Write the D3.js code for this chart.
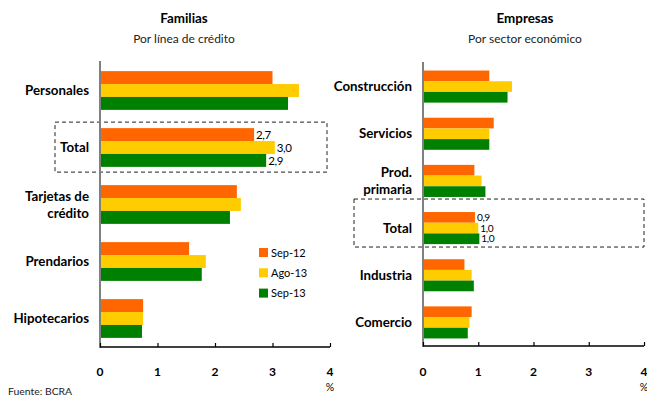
<!DOCTYPE html>
<html>
<head>
<meta charset="utf-8">
<script src="https://cdn.jsdelivr.net/npm/d3@7"></script>
<style>
  body { margin: 0; background: #fff; }
  svg { font-family: Lato, "Open Sans", sans-serif; }
</style>
</head>
<body>
<svg class="chart" width="647" height="396"></svg>
<script>
var series = ["Sep-12", "Ago-13", "Sep-13"];
var colors = ["#ff6600", "#ffcc00", "#008000"];
var ticks = [0, 1, 2, 3, 4];

var famCats = ["Personales", "Total", "Tarjetas de\ncrédito", "Prendarios", "Hipotecarios"];
var famSep12 = [3.0, 2.68, 2.38, 1.55, 0.75];
var famAgo13 = [3.46, 3.04, 2.45, 1.84, 0.75];
var famSep13 = [3.27, 2.89, 2.26, 1.77, 0.73];

var empCats = ["Construcción", "Servicios", "Prod.\nprimaria", "Total", "Industria", "Comercio"];
var empSep12 = [1.2, 1.28, 0.93, 0.94, 0.75, 0.88];
var empAgo13 = [1.61, 1.2, 1.06, 1.0, 0.88, 0.84];
var empSep13 = [1.53, 1.2, 1.13, 1.02, 0.92, 0.81];

var svg = d3.select(".chart");

function fmt(v) { return d3.format(".1f")(v).replace(".", ","); }

function panel(opts) {
    var x = d3.scaleLinear().domain([0, 4]).range([opts.x0, opts.x1]);
    var y = d3.scaleBand().domain(opts.cats).range([opts.y0, opts.y1])
        .paddingInner(0.32).paddingOuter(0.16);
    var sub = d3.scaleBand().domain(series).range([0, y.bandwidth()]);
    var vals = [opts.a, opts.b, opts.c];
    var g = svg.append("g");

    g.append("text").attr("x", opts.tx).attr("y", 23).attr("text-anchor", "middle")
        .attr("font-weight", "bold").attr("font-size", 13.4).text(opts.title);
    g.append("text").attr("x", opts.tx).attr("y", 43).attr("text-anchor", "middle")
        .attr("font-size", 12).attr("fill", "#222").text(opts.sub);

    // recuadro del total
    var tb = y("Total");
    g.append("rect")
        .attr("x", opts.boxX0).attr("y", tb + opts.boxTop)
        .attr("width", opts.boxX1 - opts.boxX0).attr("height", opts.boxH)
        .attr("fill", "none").attr("stroke", "#222").attr("stroke-width", 1)
        .attr("stroke-dasharray", "4,3");

    var fs = Math.min(11.5, sub.bandwidth() - 0.5);
    series.forEach(function(s, i) {
        g.selectAll(null).data(opts.cats).enter().append("rect")
            .attr("x", x(0))
            .attr("y", function(d) { return y(d) + sub(s); })
            .attr("width", function(d, j) { return x(vals[i][j]) - x(0); })
            .attr("height", sub.bandwidth())
            .attr("fill", colors[i]);
        var ti = opts.cats.indexOf("Total");
        g.append("text")
            .attr("x", x(vals[i][ti]) + 2)
            .attr("y", y("Total") + sub(s) + sub.bandwidth() / 2 + fs * 0.36)
            .attr("font-size", fs).attr("letter-spacing", -0.4)
            .text(fmt(vals[i][ti]));
    });

    // etiquetas de categoría
    opts.cats.forEach(function(c) {
        var lines = c.split("\n");
        var cy = y(c) + y.bandwidth() / 2;
        lines.forEach(function(l, k) {
            g.append("text")
                .attr("x", opts.labX)
                .attr("y", cy + 4.5 + (k - (lines.length - 1) / 2) * 17)
                .attr("text-anchor", "end")
                .attr("font-weight", "bold").attr("font-size", 13.3)
                .text(l);
        });
    });

    // ejes
    g.append("line").attr("x1", x(0)).attr("x2", x(0))
        .attr("y1", opts.y0 - 1).attr("y2", opts.y1 + 1)
        .attr("stroke", "#808080").attr("stroke-width", 2);
    var ax = g.append("g").attr("transform", "translate(0," + opts.y1 + ")")
        .call(d3.axisBottom(x).tickValues(ticks).tickSize(-4).tickFormat(""));
    ax.select(".domain").attr("d", "M" + x(0) + ",0H" + x(4)).attr("stroke-width", 1.5);
    ax.selectAll(".tick line").attr("stroke-width", 1.2);
    g.selectAll(null).data(ticks).enter().append("text")
        .attr("x", function(d) { return x(d); }).attr("y", 376)
        .attr("text-anchor", "middle").attr("font-weight", "bold").attr("font-size", 12)
        .text(function(d) { return d; });
    g.append("text").attr("x", x(4)).attr("y", 391).attr("text-anchor", "middle")
        .attr("font-size", 10.5).text("%");
}

panel({
    cats: famCats, a: famSep12, b: famAgo13, c: famSep13,
    x0: 100, x1: 330, y0: 62, y1: 347,
    tx: 184, title: "Familias", sub: "Por línea de crédito",
    labX: 89,
    boxX0: 55, boxX1: 327, boxTop: -6, boxH: 50
});

panel({
    cats: empCats, a: empSep12, b: empAgo13, c: empSep13,
    x0: 423, x1: 644, y0: 63, y1: 346,
    tx: 525, title: "Empresas", sub: "Por sector económico",
    labX: 412,
    boxX0: 354, boxX1: 644, boxTop: -13, boxH: 48
});

// leyenda
var leg = svg.append("g");
series.forEach(function(s, i) {
    leg.append("rect").attr("x", 259).attr("y", 248 + i * 20.3)
        .attr("width", 9).attr("height", 9).attr("fill", colors[i]);
    leg.append("text").attr("x", 271).attr("y", 256.5 + i * 20.3)
        .attr("font-size", 11).text(s);
});

svg.append("text").attr("x", 8).attr("y", 395).attr("font-size", 10.4)
    .attr("fill", "#222").text("Fuente: BCRA");
</script>
</body>
</html>
